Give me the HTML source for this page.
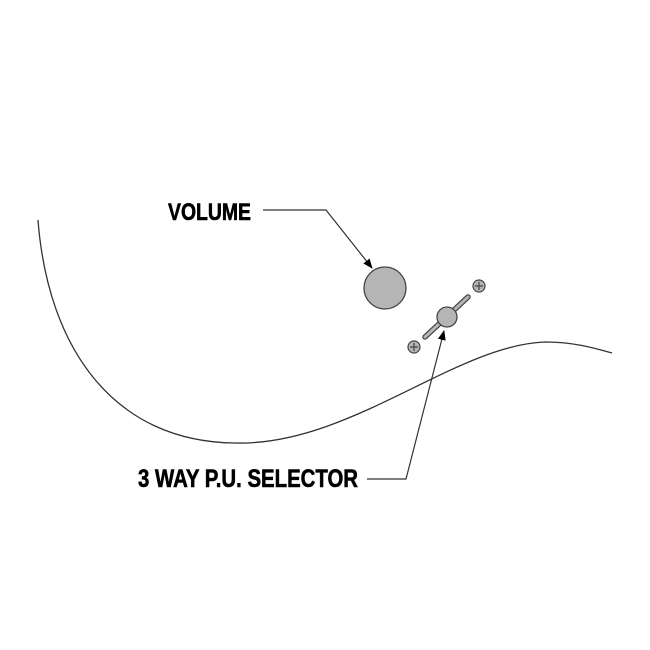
<!DOCTYPE html>
<html><head><meta charset="utf-8"><style>
html,body{margin:0;padding:0;background:#fff;}
svg{display:block;}
text{font-family:"Liberation Sans Narrow","Liberation Sans",sans-serif;font-weight:bold;fill:#000;stroke:#000;stroke-width:0.6;}
</style></head><body>
<svg width="650" height="650" viewBox="0 0 650 650" xmlns="http://www.w3.org/2000/svg">
<defs><marker id="a" markerWidth="10" markerHeight="10" refX="9" refY="5" orient="auto" markerUnits="userSpaceOnUse"><path d="M0,1 L10,5 L0,9 Z" fill="#000"/></marker></defs>
<path d="M38,220 C 48,350 115,442 235,443 C 350,446 455,345 545,342 C 578,342 600,350 612,353" fill="none" stroke="#333" stroke-width="1.3"/>
<circle cx="385" cy="288" r="21" fill="#b5b5b5" stroke="#444" stroke-width="1.3"/>
<line x1="425" y1="337" x2="468" y2="297" stroke="#444" stroke-width="5.5" stroke-linecap="round"/>
<line x1="425" y1="337" x2="468" y2="297" stroke="#b5b5b5" stroke-width="3" stroke-linecap="round"/>
<circle cx="447" cy="317" r="10" fill="#b5b5b5" stroke="#444" stroke-width="1.3"/>
<g stroke="#444" stroke-width="1.2" fill="#b5b5b5">
<circle cx="479" cy="286" r="6"/><path d="M475,286 H483 M479,282 V290" fill="none"/>
<circle cx="414" cy="347" r="6"/><path d="M410,347 H418 M414,343 V351" fill="none"/>
</g>
<polyline points="263,210 326,210 372,268" fill="none" stroke="#333" stroke-width="1.2" marker-end="url(#a)"/>
<polyline points="367,479 406,479 444,331" fill="none" stroke="#333" stroke-width="1.2" marker-end="url(#a)"/>
<text x="168" y="220" font-size="24" textLength="83" lengthAdjust="spacingAndGlyphs">VOLUME</text>
<text x="138" y="487" font-size="25" textLength="220" lengthAdjust="spacingAndGlyphs">3 WAY P.U. SELECTOR</text>
</svg>
</body></html>
